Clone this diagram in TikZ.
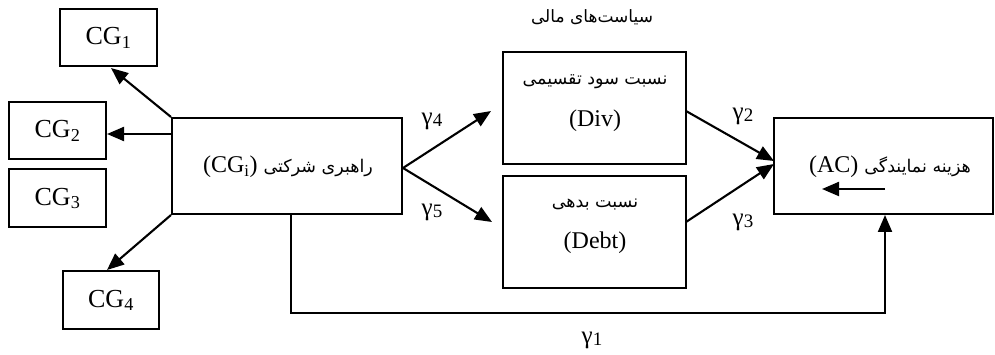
\documentclass[tikz,border=0pt]{standalone}
\usepackage{fontspec}
\setmainfont{Liberation Serif}
\newfontfamily\fa[Script=Arabic]{DejaVu Sans}
\TeXXeTstate=1
\usetikzlibrary{arrows.meta}
\newcommand\gsub[1]{γ\raisebox{-0.25ex}{\fontsize{19}{19}\selectfont #1}}
\begin{document}
\begin{tikzpicture}[x=1pt,y=-1pt,
  box/.style={draw, line width=2pt, inner sep=0pt},
  con/.style={line width=2.1pt, -{Triangle[length=17pt,width=14pt]}},
  lbl/.style={font=\fontsize{24}{28}\selectfont, inner sep=0pt},
  cgl/.style={font=\fontsize{26}{30}\selectfont, inner sep=0pt},
  gl/.style={font=\fontsize{25}{28}\selectfont, inner sep=0pt},
  fat/.style={font=\fa\fontsize{17.5}{20}\selectfont, inner sep=0pt}]
\useasboundingbox (0,0) rectangle (995,355);

% boxes
\node[box, minimum width=97pt, minimum height=57pt] (cg1) at (108.5,37.5) {};
\node[box, minimum width=97pt, minimum height=57pt] (cg2) at (57.5,130.5) {};
\node[box, minimum width=97pt, minimum height=58pt] (cg3) at (57.5,198) {};
\node[box, minimum width=96pt, minimum height=58pt] (cg4) at (111,300) {};
\node[box, minimum width=230pt, minimum height=96pt] (main) at (287,166) {};
\node[box, minimum width=183pt, minimum height=112pt] (div) at (594.5,108) {};
\node[box, minimum width=183pt, minimum height=112pt] (debt) at (594.5,232) {};
\node[box, minimum width=219pt, minimum height=96pt] (ac) at (883.5,166) {};

% texts
\node[cgl] (cg1t) at (108.5,38) {CG\textsubscript{1}};
\node[cgl] (cg2t) at (57.5,131) {CG\textsubscript{2}};
\node[cgl] (cg3t) at (57.5,198.5) {CG\textsubscript{3}};
\node[cgl] (cg4t) at (111,300.5) {CG\textsubscript{4}};
\node[lbl] (maint) at (288,167) {(CG\textsubscript{i}) {\fa\fontsize{17.5}{20}\selectfont\beginR راهبری شرکتی\endR}};
\node[fat] (divfa) at (595,82) {\beginR نسبت سود تقسیمی\endR};
\node[lbl] (divt) at (595,121) {(Div)};
\node[fat] (debtfa) at (595,205) {\beginR نسبت بدهی\endR};
\node[lbl] (debtt) at (595,243) {(Debt)};
\node[lbl] (act) at (890,167) {(AC) {\fa\fontsize{17.5}{20}\selectfont\beginR هزینه نمایندگی\endR}};
\node[font=\fa\fontsize{17}{20}\selectfont, inner sep=0pt] (title) at (592,17) {\beginR سیاست‌های مالی\endR};

\node[gl] (g4) at (432,121) {\gsub{4}};
\node[gl] (g5) at (432,212) {\gsub{5}};
\node[gl] (g2) at (743,116) {\gsub{2}};
\node[gl] (g3) at (743,222) {\gsub{3}};
\node[gl] (g1) at (592,340) {\gsub{1}};

% coordinates
\coordinate (t1) at (111,68);
\coordinate (m2) at (172,134);
\coordinate (t4) at (107,270);
\coordinate (fork) at (403,168);
\coordinate (t4b) at (491,111);
\coordinate (t5b) at (492,222);
\coordinate (s2) at (686,111);
\coordinate (s3) at (686,222);
\coordinate (e2) at (774,161);
\coordinate (e3) at (774,164);
\coordinate (b0) at (291,214);
\coordinate (b1) at (291,313);
\coordinate (b2) at (885,313);
\coordinate (ia1) at (885,189);
\coordinate (ia2) at (822,189);

% connectors
\draw[con] (main.north west) -- (t1);
\draw[con] (m2) -- (cg2.east |- m2);
\draw[con] (main.south west) -- (t4);
\draw[con] (fork) -- (t4b);
\draw[con] (fork) -- (t5b);
\draw[con] (s2) -- (e2);
\draw[con] (s3) -- (e3);
\draw[con] (b0) -- (b1) -- (b2) -- (ac.south -| b2);
\draw[con] (ia1) -- (ia2);
\end{tikzpicture}
\end{document}
